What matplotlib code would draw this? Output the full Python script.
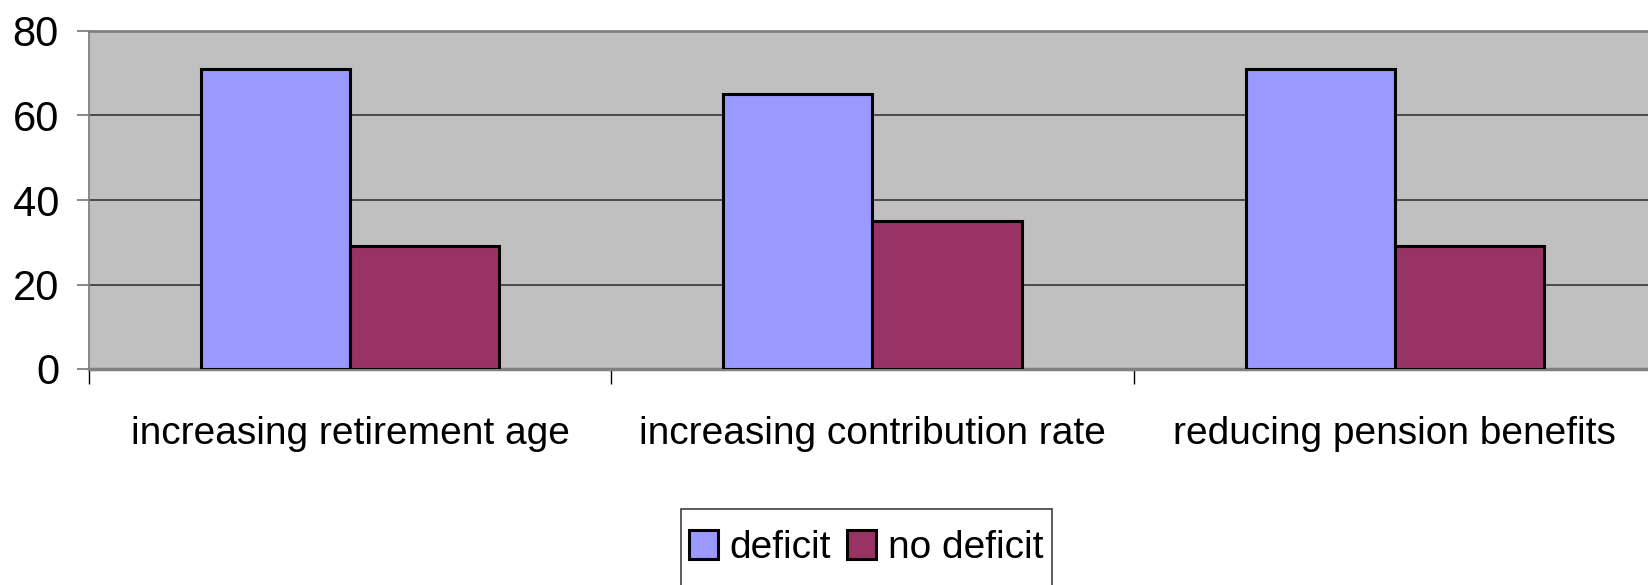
import numpy as np
import matplotlib.pyplot as plt
from matplotlib.patches import Rectangle

# data
categories = ['increasing retirement age', 'increasing contribution rate', 'reducing pension benefits']
deficit = [71, 65, 71]
no_deficit = [29, 35, 29]
series_names = ['deficit', 'no deficit']
y_ticks = [0, 20, 40, 60, 80]

plt.rcParams['font.family'] = ['Liberation Sans', 'DejaVu Sans']

fig = plt.figure(figsize=(16.48, 5.85), dpi=100)
ax = fig.add_axes([89 / 1648, 1 - 369 / 585, (1656 - 89) / 1648, 338 / 585])
ax.set_facecolor('#C0C0C0')

x = np.arange(len(categories))
w = 1 / 3.5
ax.bar(x - w, deficit, w, align='edge', color='#9999FF', edgecolor='black', linewidth=2.2,
       label=series_names[0], zorder=3)
ax.bar(x, no_deficit, w, align='edge', color='#993366', edgecolor='black', linewidth=2.2,
       label=series_names[1], zorder=3)

ax.set_xlim(-0.5, len(categories) - 0.5)
ax.set_ylim(0, 80)
ax.set_yticks(y_ticks)
ax.yaxis.grid(True, color='#404040', linewidth=1.3, zorder=1)
ax.set_axisbelow(True)

# category boundaries as tick marks, labels at centres
ax.set_xticks(np.arange(len(categories) + 1) - 0.5)
ax.set_xticklabels([])
ax.set_xticks(x, minor=True)
ax.set_xticklabels(categories, minor=True, fontsize=28)
ax.tick_params(axis='x', which='minor', length=0, pad=34)
ax.tick_params(axis='x', which='major', length=11, width=1, color='black', direction='out')
ax.tick_params(axis='y', length=8.6, width=1.3, color='#808080', labelsize=30, pad=13)

for side in ['left', 'top', 'bottom']:
    ax.spines[side].set_color('#808080')
ax.spines['left'].set_linewidth(1.3)
ax.spines['top'].set_linewidth(2)
ax.spines['bottom'].set_linewidth(2.5)
ax.spines['right'].set_visible(False)

# legend box runs off the bottom of the image
fig.patches.append(Rectangle((681 / 1648, -0.05), (1052 - 681) / 1648, 0.05 + (585 - 509) / 585,
                             transform=fig.transFigure, facecolor='white', edgecolor='#404040',
                             linewidth=1.2))
handles, labels = ax.get_legend_handles_labels()
fig.legend(handles, labels, loc='center', bbox_to_anchor=(866 / 1648, 1 - 548 / 585),
           ncol=2, frameon=False, fontsize=28, handlelength=0.75, handleheight=0.75,
           handletextpad=0.3, columnspacing=0.4, borderpad=0)

fig.savefig('out.png', dpi=100)
